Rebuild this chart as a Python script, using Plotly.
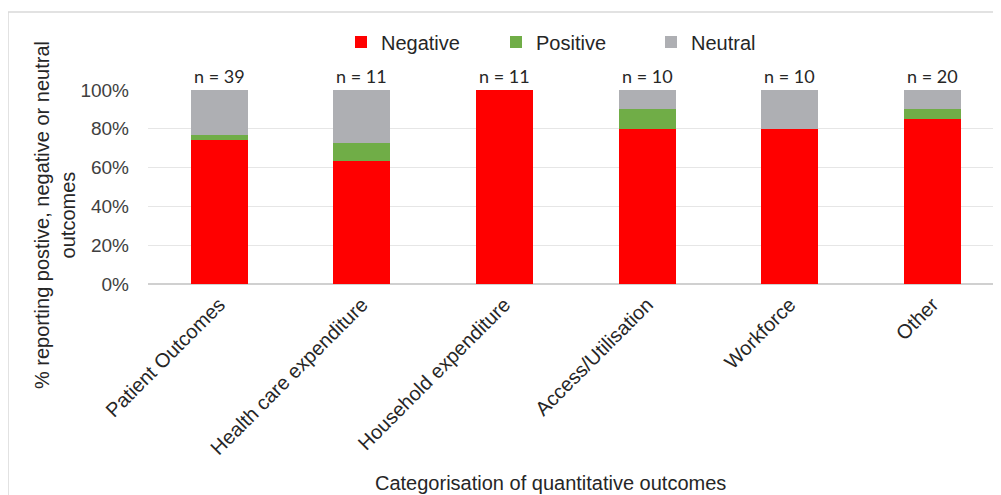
import plotly.graph_objects as go

categories = ["Patient Outcomes", "Health care expenditure", "Household expenditure",
              "Access/Utilisation", "Workforce", "Other"]
negative = [74.4, 63.6, 100, 80, 80, 85]
positive = [2.6, 9.1, 0, 10, 0, 5]
neutral = [23.0, 27.3, 0, 10, 20, 10]
n_counts = [39, 11, 11, 10, 10, 20]
y_ticks = [0, 20, 40, 60, 80, 100]
y_tick_labels = ["0%", "20%", "40%", "60%", "80%", "100%"]

OFF = 8  # page body margin
W, H = 1001 - OFF, 495 - OFF
L, R, T = 148 - OFF, 0, 90 - OFF
B = H - (284 - OFF)
pw, ph = W - L - R, H - T - B

def px_x(x):
    return (x - OFF - L) / pw

def px_y(y):
    return (H - B - (y - OFF)) / ph

fig = go.Figure()
for name, vals, col in [("Negative", negative, "#FF0000"),
                        ("Positive", positive, "#70AD47"),
                        ("Neutral", neutral, "#AEAFB3")]:
    fig.add_trace(go.Bar(x=categories, y=vals, name=name, marker_color=col,
                         marker_line_width=0, hoverinfo="skip"))

for c, n in zip(categories, n_counts):
    fig.add_annotation(x=c, y=100, xref="x", yref="y", text=f"n = {n}",
                       showarrow=False, yanchor="bottom", yshift=1,
                       font=dict(family="Lato", size=18, color="#262626"))

fig.add_annotation(x=px_x(55), y=px_y(215), xref="paper", yref="paper",
                   text="% reporting postive, negative or neutral<br>outcomes",
                   textangle=-90, showarrow=False, xanchor="center", yanchor="middle",
                   font=dict(family="Liberation Sans", size=20, color="#262626"))
fig.add_annotation(x=px_x(550), y=px_y(483), xref="paper", yref="paper",
                   text="Categorisation of quantitative outcomes", showarrow=False,
                   xanchor="center", yanchor="middle",
                   font=dict(family="Liberation Sans", size=20, color="#262626"))

fig.add_shape(type="rect", xref="paper", yref="paper",
              x0=px_x(8), x1=1.2, y0=-3, y1=px_y(12),
              line=dict(color="#D9D9D9", width=1.5), fillcolor="rgba(0,0,0,0)", layer="below")

fig.update_layout(
    width=W, height=H, barmode="stack", bargap=0.6,
    margin=dict(l=L, r=R, t=T, b=B),
    paper_bgcolor="white", plot_bgcolor="white",
    font=dict(family="Liberation Sans", size=19, color="#404040"),
    legend=dict(orientation="h", x=px_x(341), xanchor="left", y=px_y(42), yanchor="middle",
                font=dict(size=20, color="#262626"), traceorder="normal",
                itemwidth=30, entrywidth=110),
    showlegend=True,
)
fig.update_xaxes(range=[-0.5, 5.48], tickangle=-45, showline=False, showgrid=False,
                 ticks="", ticklabelstandoff=4,
                 tickfont=dict(family="Liberation Sans", size=20, color="#262626"))
fig.update_yaxes(range=[0, 100], tickvals=y_ticks, ticktext=y_tick_labels, showgrid=True,
                 gridcolor="#E6E6E6", gridwidth=1, zeroline=True, zerolinecolor="#D0D0D0",
                 zerolinewidth=1.5, ticks="", ticklabelstandoff=18,
                 tickfont=dict(family="Liberation Sans", size=19, color="#404040"))

fig.write_html("out.html")
